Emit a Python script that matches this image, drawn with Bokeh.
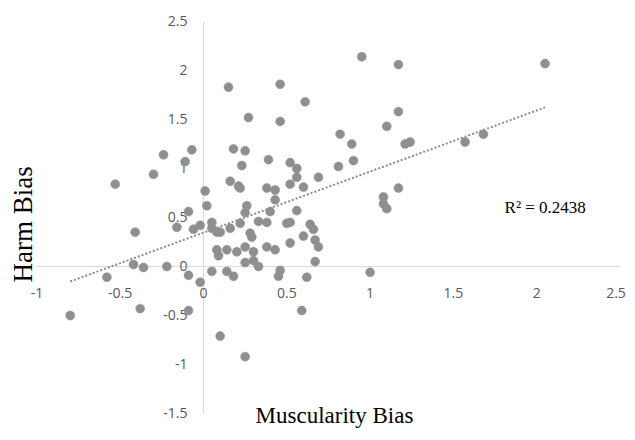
import numpy as np
from bokeh.plotting import figure
from bokeh.models import Range1d, Label, ColumnDataSource
from bokeh.core.properties import value
from bokeh.embed import file_html
from bokeh.resources import INLINE

# ---- data ----
muscularity_bias = [
    0.15, 0.46, 0.61, 0.27, 0.46, 0.18, 0.25, -0.07, -0.24, -0.11,
    -0.30, -0.53, 0.01, 0.02, -0.09, 0.16, 0.21, 0.22, 0.23, 0.39,
    0.52, 0.56, 0.56, 0.69, 0.52, 0.60, 0.38, 0.43, 0.43, 0.26,
    0.25, 0.40, 0.56, 0.95, 1.17, 2.05, 1.17, 1.10, 0.82, 0.89,
    1.21, 1.24, 1.57, 1.68, 0.81, 0.90, 1.17, 1.08, 1.08, 1.10,
    -0.41, -0.16, -0.06, -0.02, 0.05, 0.05, 0.08, 0.10, 0.16, 0.22,
    0.28, 0.29, 0.33, 0.38, 0.50, 0.52, 0.64, 0.66, 0.60, 0.67,
    0.69, 0.52, 0.08, 0.09, 0.14, 0.20, 0.25, 0.30, 0.38, 0.43,
    0.25, 0.30, 0.33, 0.67, -0.42, -0.36, -0.22, -0.58, -0.09, -0.02,
    0.05, 0.14, 0.18, 0.46, 0.45, 0.62, -0.38, -0.09, -0.80, 0.10,
    0.25, 0.59, 1.00,
]
harm_bias = [
    1.83, 1.86, 1.68, 1.52, 1.48, 1.20, 1.18, 1.19, 1.14, 1.07,
    0.94, 0.84, 0.77, 0.62, 0.56, 0.87, 0.82, 0.80, 1.03, 1.09,
    1.06, 1.00, 0.91, 0.91, 0.84, 0.81, 0.80, 0.78, 0.68, 0.62,
    0.55, 0.56, 0.57, 2.14, 2.06, 2.07, 1.58, 1.43, 1.35, 1.25,
    1.25, 1.27, 1.27, 1.35, 1.02, 1.08, 0.80, 0.71, 0.64, 0.59,
    0.35, 0.40, 0.38, 0.42, 0.45, 0.39, 0.35, 0.35, 0.39, 0.44,
    0.34, 0.30, 0.46, 0.45, 0.44, 0.45, 0.43, 0.38, 0.31, 0.27,
    0.20, 0.24, 0.17, 0.11, 0.17, 0.15, 0.20, 0.15, 0.20, 0.17,
    0.04, 0.06, 0.00, 0.05, 0.02, -0.01, 0.00, -0.11, -0.09, -0.16,
    -0.05, -0.05, -0.10, -0.04, -0.10, -0.11, -0.43, -0.45, -0.50, -0.71,
    -0.92, -0.45, -0.06,
]
x_ticks = [-1, -0.5, 0, 0.5, 1, 1.5, 2, 2.5]
x_tick_labels = ["-1", "-0.5", "0", "0.5", "1", "1.5", "2", "2.5"]
y_ticks = [-1.5, -1, -0.5, 0, 0.5, 1, 1.5, 2, 2.5]
y_tick_labels = ["-1.5", "-1", "-0.5", "0", "0.5", "1", "1.5", "2", "2.5"]
x_title = "Muscularity Bias"
y_title = "Harm Bias"
r2_text = "R\u00b2 = 0.2438"

# ---- figure ----
p = figure(width=627, height=432, output_backend="svg", toolbar_location=None,
           x_range=Range1d(-1.2185, 2.545), y_range=Range1d(-1.694, 2.714),
           x_axis_location=None, y_axis_location=None,
           min_border=0, min_border_left=0, min_border_right=0,
           min_border_top=0, min_border_bottom=0)
p.grid.visible = False
p.outline_line_color = None
p.background_fill_color = "white"
p.border_fill_color = "white"

axis_color = "#d9d9d9"
# horizontal axis line at y=0 and vertical axis line at x=0
p.segment(x0=[x_ticks[0]], y0=[0], x1=[x_ticks[-1]], y1=[0],
          line_color=axis_color, line_width=1)
p.segment(x0=[0], y0=[y_ticks[0]], x1=[0], y1=[y_ticks[-1]],
          line_color=axis_color, line_width=1)

# tick labels
tick_font = value("Open Sans")
x_label_shift = [0, 0, 0, 0, 0, 0, 0, -4]
p.text(x=x_ticks, y=[0] * len(x_ticks), text=x_tick_labels,
       text_font=tick_font, text_font_size="14px", text_color="#595959",
       text_align="center", text_baseline="middle", y_offset=27,
       x_offset=x_label_shift)
p.text(x=[0] * len(y_ticks), y=y_ticks, text=y_tick_labels,
       text_font=tick_font, text_font_size="14px", text_color="#595959",
       text_align="right", text_baseline="middle", x_offset=-16)

# trendline (least squares)
xa = np.array(muscularity_bias)
ya = np.array(harm_bias)
slope, intercept = np.polyfit(xa, ya, 1)
tx = [xa.min(), xa.max()]
ty = [slope * t + intercept for t in tx]
p.line(tx, ty, line_color="#8c8c8c", line_width=2, line_dash="2 2")

# points
src = ColumnDataSource(dict(x=muscularity_bias, y=harm_bias))
p.scatter("x", "y", source=src, size=9, fill_color="#8f8f8f",
          line_color="#8f8f8f", line_width=0.5)

# texts
p.add_layout(Label(x=1.807, y=0.602, text=r2_text, text_font="Liberation Serif",
                   text_font_size="17px", text_color="#000000",
                   text_align="left", text_baseline="alphabetic"))
p.add_layout(Label(x=-1.086, y=0.43, text=y_title, text_font="Liberation Serif",
                   text_font_size="27px", text_color="#000000", angle=np.pi / 2,
                   text_align="center", text_baseline="middle"))
p.add_layout(Label(x=0.786, y=-1.52, text=x_title, text_font="Liberation Serif",
                   text_font_size="23px", text_color="#000000",
                   text_align="center", text_baseline="alphabetic"))

open("out.html", "w").write(file_html(p, INLINE))
